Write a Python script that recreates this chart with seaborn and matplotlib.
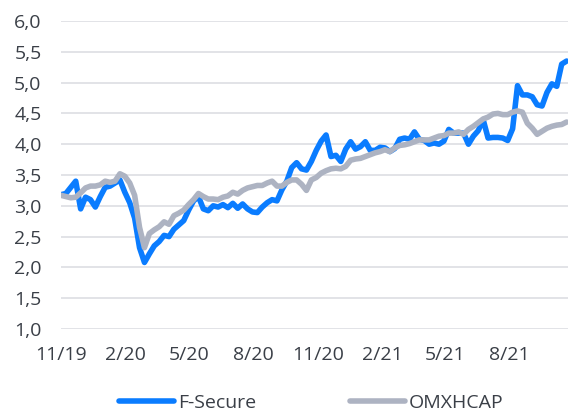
import matplotlib
matplotlib.use('Agg')
import matplotlib.pyplot as plt
import matplotlib.dates as mdates
import matplotlib.ticker as mticker
import seaborn as sns
import pandas as pd

# weekly closes
start_date = '2019-11-01'
fsecure = [3.18, 3.20, 3.30, 3.40, 2.95, 3.14, 3.10, 2.98, 3.15, 3.30,
           3.32, 3.37, 3.42, 3.22, 3.05, 2.80, 2.32, 2.08, 2.22, 2.35,
           2.42, 2.52, 2.50, 2.62, 2.69, 2.76, 2.93, 3.08, 3.15, 2.95,
           2.92, 3.00, 2.98, 3.02, 2.97, 3.04, 2.96, 3.03, 2.95, 2.90,
           2.89, 2.98, 3.05, 3.10, 3.08, 3.26, 3.40, 3.62, 3.70, 3.60,
           3.58, 3.72, 3.90, 4.05, 4.15, 3.80, 3.82, 3.72, 3.92, 4.04,
           3.92, 3.96, 4.04, 3.90, 3.90, 3.95, 3.94, 3.88, 3.93, 4.08,
           4.10, 4.08, 4.20, 4.08, 4.06, 4.00, 4.02, 4.00, 4.05, 4.24,
           4.18, 4.18, 4.18, 4.00, 4.13, 4.22, 4.40, 4.10, 4.11, 4.11,
           4.10, 4.06, 4.25, 4.95, 4.80, 4.80, 4.77, 4.64, 4.62, 4.84,
           4.98, 4.94, 5.30, 5.35]
omxhcap = [3.17, 3.15, 3.13, 3.14, 3.21, 3.29, 3.32, 3.32, 3.34, 3.40,
           3.38, 3.40, 3.52, 3.48, 3.37, 3.17, 2.65, 2.32, 2.55, 2.61,
           2.66, 2.74, 2.70, 2.84, 2.88, 2.93, 3.02, 3.10, 3.20, 3.15,
           3.11, 3.11, 3.10, 3.14, 3.16, 3.22, 3.19, 3.25, 3.29, 3.31,
           3.33, 3.33, 3.37, 3.40, 3.32, 3.32, 3.38, 3.42, 3.42, 3.35,
           3.25, 3.42, 3.46, 3.53, 3.57, 3.60, 3.61, 3.60, 3.64, 3.74,
           3.76, 3.77, 3.80, 3.83, 3.86, 3.88, 3.91, 3.88, 3.94, 3.98,
           3.99, 4.01, 4.04, 4.07, 4.07, 4.07, 4.10, 4.13, 4.14, 4.18,
           4.18, 4.20, 4.16, 4.24, 4.29, 4.35, 4.41, 4.44, 4.49, 4.50,
           4.48, 4.48, 4.52, 4.54, 4.52, 4.34, 4.26, 4.16, 4.21, 4.26,
           4.29, 4.31, 4.32, 4.36]
series_names = ['F-Secure', 'OMXHCAP']
colors = ['#0A7CFF', '#ADB3C2']

dates = pd.date_range(start_date, periods=len(fsecure), freq='7D')
df = pd.DataFrame({'date': list(dates) * 2,
                   'value': fsecure + omxhcap,
                   'series': [series_names[0]] * len(fsecure) + [series_names[1]] * len(omxhcap)})

sns.set_style('white')
plt.rcParams['font.family'] = ['Open Sans', 'DejaVu Sans']
plt.rcParams['lines.solid_capstyle'] = 'round'
plt.rcParams['lines.solid_joinstyle'] = 'round'
text_color = '#3A3F47'

fig = plt.figure(figsize=(5.68, 4.11), dpi=100)
ax = fig.add_axes([0.1074, 0.1995, 0.8926, 0.7494])

sns.lineplot(data=df, x='date', y='value', hue='series', hue_order=series_names,
             palette=colors, linewidth=4.0, ax=ax, legend=False)

ax.set_ylim(1.0, 6.0)
ax.set_xlim(pd.Timestamp(start_date), dates[-1] + pd.Timedelta(days=2))
ax.yaxis.set_major_locator(mticker.MultipleLocator(0.5))
ax.yaxis.set_major_formatter(mticker.FuncFormatter(lambda v, p: f'{v:.1f}'.replace('.', ',')))
ax.xaxis.set_major_locator(mdates.MonthLocator(bymonth=[2, 5, 8, 11]))
ax.xaxis.set_major_formatter(mticker.FuncFormatter(
    lambda v, p: f"{mdates.num2date(v).month}/{mdates.num2date(v).strftime('%y')}"))

ax.grid(axis='y', color='#DDDEE3', linewidth=1.2)
ax.set_axisbelow(True)
for s in ax.spines.values():
    s.set_visible(False)
ax.tick_params(axis='y', length=0, pad=14, labelsize=14, labelcolor=text_color)
ax.tick_params(axis='x', length=5, width=1, color='#DDDEE3', pad=7,
               labelsize=14, labelcolor=text_color)
ax.set_xlabel('')
ax.set_ylabel('')

handles = [plt.Line2D([], [], color=c, linewidth=4.0) for c in colors]
fig.legend(handles, series_names, loc='center', bbox_to_anchor=(0.548, 0.02),
           ncol=2, frameon=False, fontsize=14, handlelength=2.85,
           handletextpad=0.2, columnspacing=4.8, labelcolor=text_color)

plt.savefig('out.png', dpi=100)
